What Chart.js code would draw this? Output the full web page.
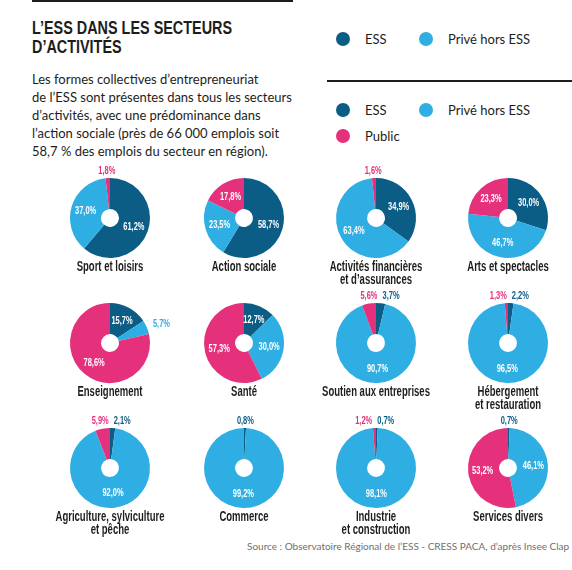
<!DOCTYPE html>
<html>
<head>
<meta charset="utf-8">
<script src="https://cdn.jsdelivr.net/npm/chart.js@4/dist/chart.umd.min.js"></script>
<style>
    html, body { margin: 0; padding: 0; background: #fff; overflow: hidden; }
    #page { position: relative; width: 572px; height: 570px; overflow: hidden; color: #1d1d1b; font-family: Lato, "Noto Sans", sans-serif; }
    .rule { position: absolute; background: #1d1d1b; }
    .title { position: absolute; left: 32px; top: 19px; font: bold 18px/18.6px "Liberation Sans", Arial, sans-serif; transform: scaleX(0.8); transform-origin: 0 0; white-space: nowrap; }
    .intro { position: absolute; left: 32px; top: 70px; font-size: 13px; line-height: 18px; white-space: nowrap; }
    .legend { position: absolute; left: 336px; font-size: 13px; }
    .legend .item { position: absolute; white-space: nowrap; }
    .legend .dot { position: absolute; left: 0; top: -7px; width: 14px; height: 14px; border-radius: 50%; }
    .legend .txt { position: absolute; left: 29px; top: -9px; line-height: 18px; }
    .cell { position: absolute; width: 132px; height: 112px; }
    .name { position: absolute; width: 200px; text-align: center; font: bold 14px/12.5px "Liberation Sans", Arial, sans-serif; white-space: pre-line; transform: scaleX(0.68); transform-origin: 50% 0; }
    .source { position: absolute; left: 247px; top: 540px; font-size: 10px; color: #6f6f6e; white-space: nowrap; }
</style>
</head>
<body>
<div id="page">
    <div class="rule" style="left:32px;top:0;width:261px;height:2px"></div>
    <div class="rule" style="left:327px;top:80px;width:245px;height:1.5px"></div>
    <div class="title">L’ESS DANS LES SECTEURS<br>D’ACTIVITÉS</div>
    <div class="intro">Les formes collectives d’entrepreneuriat<br>de l’ESS sont présentes dans tous les secteurs<br>d’activités, avec une prédominance dans<br>l’action sociale (près de 66 000 emplois soit<br>58,7 % des emplois du secteur en région).</div>
    <div class="legend" id="legendTop" style="top:39px"></div>
    <div class="legend" id="legendBottom" style="top:110px"></div>
    <div class="source">Source : Observatoire Régional de l’ESS - CRESS PACA, d’après Insee Clap 2</div>
</div>
<script>
(function () {
    'use strict';

    var sectors = [
        'Sport et loisirs', 'Action sociale', 'Activités financières\net d’assurances', 'Arts et spectacles',
        'Enseignement', 'Santé', 'Soutien aux entreprises', 'Hébergement\net restauration',
        'Agriculture, sylviculture\net pêche', 'Commerce', 'Industrie\net construction', 'Services divers'
    ];
    var seriesNames = ['ESS', 'Privé hors ESS', 'Public'];
    var ess = [61.2, 58.7, 34.9, 30.0, 15.7, 12.7, 3.7, 2.2, 2.1, 0.8, 0.7, 0.7];
    var priveHorsEss = [37.0, 23.5, 63.4, 46.7, 5.7, 30.0, 90.7, 96.5, 92.0, 99.2, 98.1, 46.1];
    var publicSect = [1.8, 17.8, 1.6, 23.3, 78.6, 57.3, 5.6, 1.3, 5.9, 0, 1.2, 53.2];

    var colors = ['#0c5d85', '#2faee3', '#e5307b'];
    var colX = [110, 244, 376, 508];
    var rowY = [218, 343, 468];

    var page = document.getElementById('page');

    function buildLegend(id, count) {
        var box = document.getElementById(id);
        for (var i = 0; i < count; i++) {
            var item = document.createElement('div');
            item.className = 'item';
            item.style.left = (i % 2) * 83 + 'px';
            item.style.top = Math.floor(i / 2) * 26 + 'px';
            item.innerHTML = '<span class="dot" style="background:' + colors[i] + '"></span>' +
                '<span class="txt">' + seriesNames[i] + '</span>';
            box.appendChild(item);
        }
    }
    buildLegend('legendTop', 2);
    buildLegend('legendBottom', 3);

    var SQUEEZE = 0.65;
    var LABEL_FONT = 'bold 11.5px "Liberation Sans", Arial, sans-serif';

    function fmt(v) {
        return v.toFixed(1).replace('.', ',') + '%';
    }

    function textWidth(ctx, txt) {
        ctx.save();
        ctx.font = LABEL_FONT;
        var w = ctx.measureText(txt).width * SQUEEZE;
        ctx.restore();
        return w;
    }

    function drawText(ctx, txt, x, y, color, align) {
        ctx.save();
        ctx.translate(x, y);
        ctx.scale(SQUEEZE, 1);
        ctx.font = LABEL_FONT;
        ctx.fillStyle = color;
        ctx.textAlign = align;
        ctx.textBaseline = 'middle';
        ctx.fillText(txt, 0, 0);
        ctx.restore();
    }

    // percentage labels: inside the ring for big slices, outside for small ones
    var pctLabels = {
        id: 'pctLabels',
        afterDatasetsDraw: function (chart) {
            var ctx = chart.ctx;
            var arcs = chart.getDatasetMeta(0).data;
            var vals = chart.data.datasets[0].data;
            var outside = [];
            arcs.forEach(function (arc, i) {
                var v = vals[i];
                if (!v) return;
                var mid = (arc.startAngle + arc.endAngle) / 2;
                if (v >= 10) {
                    var r = (arc.innerRadius + arc.outerRadius) / 2 + 1;
                    drawText(ctx, fmt(v), arc.x + Math.cos(mid) * r, arc.y + Math.sin(mid) * r, '#fff', 'center');
                } else {
                    var ro = arc.outerRadius + 7.5;
                    var half = textWidth(ctx, fmt(v)) / 2;
                    outside.push({
                        txt: fmt(v),
                        x: arc.x + Math.cos(mid) * (ro + half),
                        y: arc.y + Math.sin(mid) * ro,
                        color: colors[i],
                    });
                }
            });
            if (outside.length === 2) {
                // two small slices side by side at the top: set them next to each other
                outside.sort(function (a, b) { return a.x - b.x; });
                var y = Math.min(outside[0].y, outside[1].y);
                var split = outside[1].x;
                drawText(ctx, outside[0].txt, split - 5, y, outside[0].color, 'right');
                drawText(ctx, outside[1].txt, split, y, outside[1].color, 'left');
            } else {
                outside.forEach(function (o) {
                    drawText(ctx, o.txt, o.x, o.y, o.color, 'center');
                });
            }
        }
    };

    sectors.forEach(function (name, i) {
        var cx = colX[i % 4];
        var cy = rowY[Math.floor(i / 4)];

        var cell = document.createElement('div');
        cell.className = 'cell';
        cell.style.left = (cx - 66) + 'px';
        cell.style.top = (cy - 56) + 'px';
        var canvas = document.createElement('canvas');
        canvas.width = 132;
        canvas.height = 112;
        cell.appendChild(canvas);
        page.appendChild(cell);

        var label = document.createElement('div');
        label.className = 'name';
        label.style.left = (cx - 100) + 'px';
        label.style.top = (cy + 42) + 'px';
        label.textContent = name;
        page.appendChild(label);

        new Chart(canvas, {
            type: 'doughnut',
            data: {
                labels: seriesNames,
                datasets: [{
                    data: [ess[i], priveHorsEss[i], publicSect[i]],
                    backgroundColor: colors,
                    borderWidth: 0,
                }],
            },
            options: {
                responsive: false,
                animation: false,
                radius: 40,
                cutout: 12.5,
                layout: { padding: 0 },
                plugins: {
                    legend: { display: false },
                    tooltip: { enabled: false },
                },
            },
            plugins: [pctLabels],
        });
    });
})();
</script>
</body>
</html>
